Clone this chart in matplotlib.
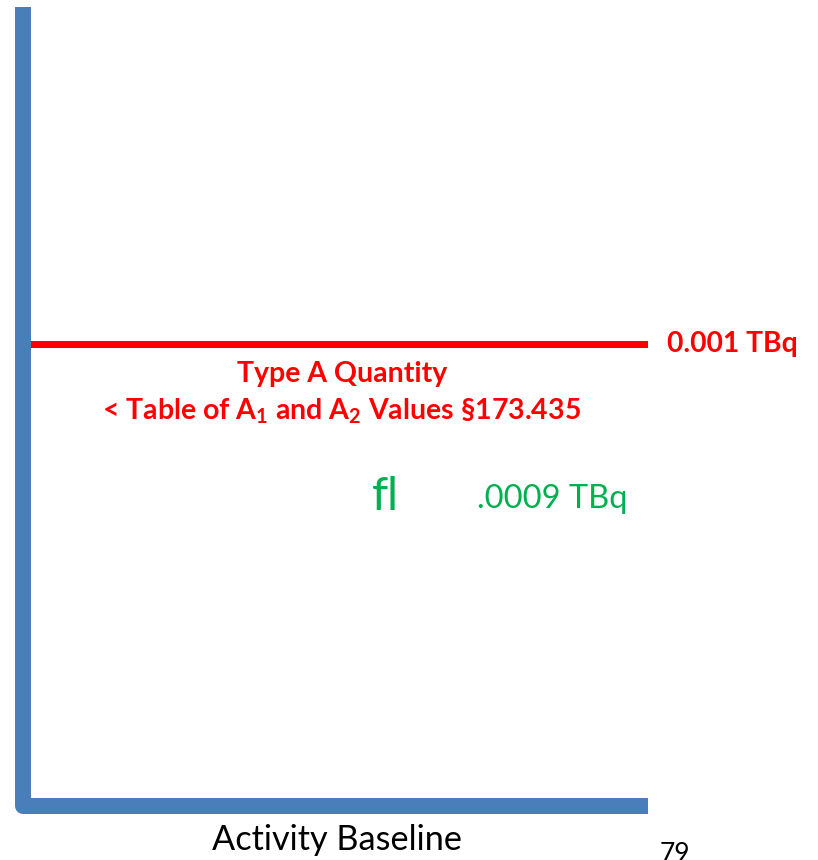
import matplotlib
matplotlib.use("Agg")
import matplotlib.pyplot as plt

plt.rcParams['font.family'] = ['Lato', 'DejaVu Sans']
plt.rcParams['mathtext.default'] = 'regular'

# values shown on the chart
threshold = 0.001          # Type A quantity limit, TBq
threshold_label = "0.001 TBq"
sample_label = ".0009 TBq"
ymax = 0.00173
x_label = "Activity Baseline"
page_no = "79"

red = "#ff0000"
green = "#00b050"
blue = "#4a7ebb"

W, H = 818, 860
fig = plt.figure(figsize=(W / 100, H / 100), dpi=100)
# axes box: left edge at x=23px, right at 648px, bottom at 806px, top at 7px
ax = fig.add_axes([23 / W, (H - 806) / H, (648 - 23) / W, (806 - 7) / H])
ax.set_xlim(0, 1)
ax.set_ylim(0, ymax)
ax.axis("off")

# blue L-shaped frame
ax.plot([0, 0, 1], [1, 0, 0], transform=ax.transAxes, color=blue, lw=16 * 0.72,
        solid_joinstyle="round", solid_capstyle="butt", clip_on=False, zorder=3)

# threshold line
ax.axhline(threshold, color=red, lw=7 * 0.72, zorder=2)
ax.annotate(threshold_label, xy=(1, threshold), xycoords=("axes fraction", "data"),
            xytext=(19, 0), textcoords="offset pixels", ha="left", va="center",
            color=red, fontsize=20.3, fontweight="bold")

ax.text(0.51, 0.541, "Type A Quantity", transform=ax.transAxes, ha="center",
        va="center", color=red, fontsize=20.5, fontweight="bold")
ax.text(0.51, 0.494, "< Table of A$_1$ and A$_2$ Values §173.435", transform=ax.transAxes,
        ha="center", va="center", color=red, fontsize=20.5, fontweight="bold")

ax.text(0.58, 0.387, "fl", transform=ax.transAxes, ha="center", va="center",
        color=green, fontsize=33)
ax.text(0.726, 0.384, sample_label, transform=ax.transAxes, ha="left", va="center",
        color=green, fontsize=23.5)

fig.text(337 / W, 1 - 840 / H, x_label, ha="center", va="center", fontsize=24.7)
fig.text(675 / W, 1 - 855 / H, page_no, ha="center", va="center", fontsize=19)

fig.savefig("out.png", dpi=100)
